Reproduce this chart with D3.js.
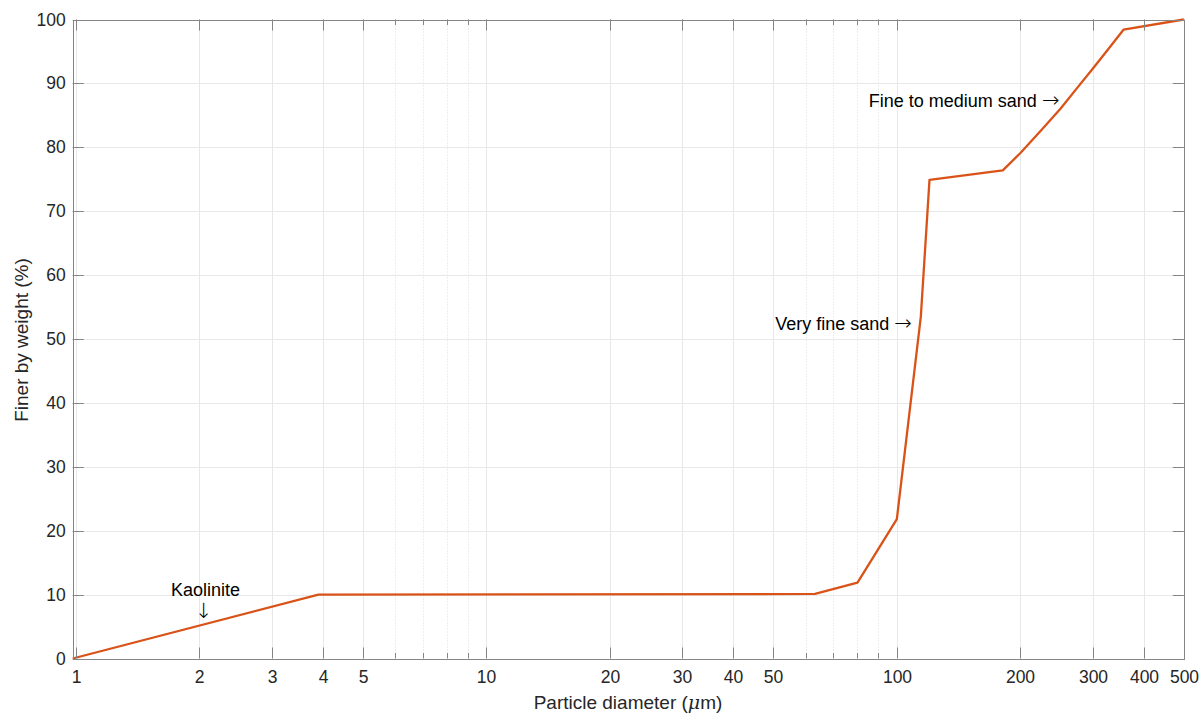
<!DOCTYPE html>
<html>
<head>
<meta charset="utf-8">
<script src="https://cdn.jsdelivr.net/npm/d3@7"></script>
<style>
  body { margin: 0; background: #fff; }
  svg { display: block; }
  text { font-family: "Liberation Sans", Arial, Helvetica, sans-serif; fill: #262626; }
  .arrow { font-family: "DejaVu Sans", sans-serif; font-weight: 200; font-size: 21px; }
</style>
</head>
<body>
<svg id="chart" width="1200" height="713"></svg>
<script>
// Cumulative particle-size distribution
const diameter = [0.983, 3.9, 63.2, 80.2, 100, 114.4, 120.1, 181.2, 200, 225, 250, 275, 300, 325, 356.5, 500];
const finer    = [0, 10, 10.1, 11.86, 21.8, 53.5, 74.9, 76.4, 79.1, 82.7, 86.0, 89.3, 92.3, 95.1, 98.4, 100];

const xMajorTicks = [1, 2, 3, 4, 5, 10, 20, 30, 40, 50, 100, 200, 300, 400, 500];
const xMinorTicks = [6, 7, 8, 9, 60, 70, 80, 90];
const yTicks = [0, 10, 20, 30, 40, 50, 60, 70, 80, 90, 100];

// annotation text, arrow glyph, anchor point (data units) and alignment
const labelTexts  = ["Kaolinite", "", "Very fine sand ", "Fine to medium sand "];
const labelArrows = ["", "\u2193", "\u2192", "\u2192"];
const labelX = [2.07, 2.05, 108.8, 249];
const labelY = [9.83, 6.3, 51.4, 86.35];
const labelAnchor = ["middle", "middle", "end", "end"];

const xLabel = "Particle diameter (";
const yLabel = "Finer by weight (%)";

const svg = d3.select("#chart");
const plotLeft = 72.7, plotRight = 1183.8, plotTop = 19.5, plotBottom = 658.5;

const x = d3.scaleLog().domain([0.983, 500]).range([plotLeft, plotRight]);
const y = d3.scaleLinear().domain([0, 100]).range([plotBottom, plotTop]);

const snap = v => Math.round(v) + 0.5;

// grid
const grid = svg.append("g");
grid.selectAll(".gx").data(xMajorTicks.filter(d => d < 500)).join("line")
  .attr("x1", d => snap(x(d))).attr("x2", d => snap(x(d)))
  .attr("y1", plotTop).attr("y2", plotBottom)
  .attr("stroke", "#e8e8e8").attr("stroke-width", 1);
grid.selectAll(".gxm").data(xMinorTicks).join("line")
  .attr("x1", d => snap(x(d))).attr("x2", d => snap(x(d)))
  .attr("y1", plotTop).attr("y2", plotBottom)
  .attr("stroke", "#dcdcdc").attr("stroke-width", 1).attr("stroke-dasharray", "1,2");
grid.selectAll(".gy").data(yTicks.filter(d => d > 0 && d < 100)).join("line")
  .attr("x1", plotLeft).attr("x2", plotRight)
  .attr("y1", d => snap(y(d))).attr("y2", d => snap(y(d)))
  .attr("stroke", "#e8e8e8").attr("stroke-width", 1);

// data line
const pts = diameter.map((d, i) => [d, finer[i]]);
svg.append("path").datum(pts)
  .attr("fill", "none").attr("stroke", "#D95319").attr("stroke-width", 2.3)
  .attr("stroke-linejoin", "round")
  .attr("d", d3.line().x(d => x(d[0])).y(d => y(d[1])));

// axes
const axisColor = "#858585";
function styleAxis(g, showText) {
  g.select(".domain").remove();
  g.selectAll(".tick line").attr("stroke", axisColor);
  if (!showText) g.selectAll(".tick text").remove();
  g.selectAll(".tick text").attr("fill", "#262626").style("font-size", "17.5px")
    .style("font-family", "'Liberation Sans', Arial, sans-serif");
}

const xAxis = svg.append("g").attr("transform", `translate(0,${plotBottom})`)
  .call(d3.axisBottom(x).tickValues(xMajorTicks).tickFormat(d3.format("d")).tickSizeInner(-11).tickSizeOuter(0));
styleAxis(xAxis, true);
xAxis.selectAll(".tick").attr("transform", d => `translate(${snap(x(d))},0)`);
xAxis.selectAll(".tick text").attr("dy", null).attr("y", 24.5);

const xAxisMinor = svg.append("g").attr("transform", `translate(0,${plotBottom})`)
  .call(d3.axisBottom(x).tickValues(xMinorTicks).tickFormat("").tickSizeInner(-5.5).tickSizeOuter(0));
styleAxis(xAxisMinor, false);
xAxisMinor.selectAll(".tick").attr("transform", d => `translate(${snap(x(d))},0)`);

const xTop = svg.append("g").attr("transform", `translate(0,${plotTop})`)
  .call(d3.axisTop(x).tickValues(xMajorTicks).tickFormat("").tickSizeInner(-11).tickSizeOuter(0));
styleAxis(xTop, false);
xTop.selectAll(".tick").attr("transform", d => `translate(${snap(x(d))},0)`);

const xTopMinor = svg.append("g").attr("transform", `translate(0,${plotTop})`)
  .call(d3.axisTop(x).tickValues(xMinorTicks).tickFormat("").tickSizeInner(-5.5).tickSizeOuter(0));
styleAxis(xTopMinor, false);
xTopMinor.selectAll(".tick").attr("transform", d => `translate(${snap(x(d))},0)`);

const yAxis = svg.append("g").attr("transform", `translate(${plotLeft},0)`)
  .call(d3.axisLeft(y).tickValues(yTicks).tickFormat(d3.format("d")).tickSizeInner(-11).tickSizeOuter(0).tickPadding(7));
styleAxis(yAxis, true);
yAxis.selectAll(".tick").attr("transform", d => `translate(0,${snap(y(d))})`);

const yRight = svg.append("g").attr("transform", `translate(${plotRight},0)`)
  .call(d3.axisRight(y).tickValues(yTicks).tickFormat("").tickSizeInner(-11).tickSizeOuter(0));
styleAxis(yRight, false);
yRight.selectAll(".tick").attr("transform", d => `translate(0,${snap(y(d))})`);

// box
svg.append("rect")
  .attr("x", snap(plotLeft)).attr("y", snap(plotTop))
  .attr("width", Math.round(plotRight) - Math.round(plotLeft)).attr("height", Math.round(plotBottom) - Math.round(plotTop))
  .attr("fill", "none").attr("stroke", axisColor).attr("stroke-width", 1);

// axis titles
const xt = svg.append("text")
  .attr("x", 628).attr("y", 709).attr("text-anchor", "middle")
  .style("font-size", "19px");
xt.append("tspan").text(xLabel);
xt.append("tspan").style("font-style", "italic").style("font-family", "'DejaVu Serif', serif").text("\u03bc");
xt.append("tspan").text("m)");

svg.append("text")
  .attr("transform", "translate(28,340) rotate(-90)")
  .attr("text-anchor", "middle")
  .style("font-size", "19px")
  .text(yLabel);

// annotations
const notes = svg.append("g").selectAll("text").data(labelTexts).join("text")
  .attr("x", (d, i) => x(labelX[i]))
  .attr("y", (d, i) => y(labelY[i]))
  .attr("text-anchor", (d, i) => labelAnchor[i])
  .style("font-size", "18px")
  .style("fill", "#000");
notes.append("tspan").text(d => d);
notes.append("tspan").attr("class", "arrow").style("fill", "#000")
  .text((d, i) => labelArrows[i]);
</script>
</body>
</html>
